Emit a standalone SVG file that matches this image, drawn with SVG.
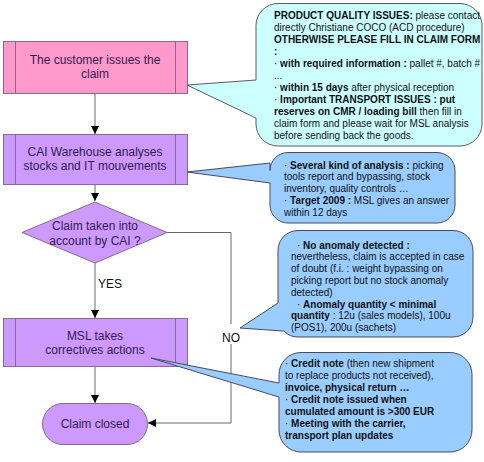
<svg xmlns="http://www.w3.org/2000/svg" width="484" height="462" viewBox="0 0 484 462">
<defs>
<marker id="ah" viewBox="0 0 10 10" refX="10" refY="5" markerWidth="8" markerHeight="10" markerUnits="userSpaceOnUse" orient="auto"><path d="M0,0 L10,5 L0,10 Z" fill="#000"/></marker>
<style>
.nt{font-family:"Liberation Sans",Arial,sans-serif;font-size:12px;fill:#33194c;text-anchor:middle}
.ct{font-family:"Liberation Sans",Arial,sans-serif;font-size:10px;fill:#111}
.b{font-weight:bold}
.pink{fill:#ff99cc;stroke:#8a6a8a;stroke-width:1}
.purp{fill:#cc99ff;stroke:#8a6a8a;stroke-width:1}
.inner{stroke:#8a6a8a;stroke-width:1;fill:none}
.c1{fill:#ccffff;stroke:#5a5a5a;stroke-width:1}
.c2{fill:#99ccff;stroke:#4a4a5a;stroke-width:1}
.main{stroke:#9a9a9a;stroke-width:1.5;fill:none;marker-end:url(#ah)}
.no{stroke:#666;stroke-width:1;fill:none;marker-end:url(#ah)}
.lbl{font-family:"Liberation Sans",Arial,sans-serif;font-size:12px;fill:#111}
</style>
</defs>
<rect width="484" height="462" fill="#fff"/>
<g id="connectors">
<line class="main" x1="95" y1="93" x2="95" y2="134"/>
<line class="main" x1="95" y1="184" x2="95" y2="201"/>
<line class="main" x1="95" y1="263" x2="95" y2="318"/>
<line class="main" x1="95" y1="366" x2="95" y2="403"/>
<path class="no" d="M167,232.5 H231 V423 H148"/>
<rect x="220" y="324" width="22" height="20" fill="#fff"/>
<text class="lbl" x="98" y="287.5">YES</text>
<text class="lbl" x="222" y="341.5">NO</text>
</g>
<g id="n1">
<rect class="pink" x="3.5" y="41.5" width="184" height="52"/>
<path class="inner" d="M15.5,41.5 V93.5 M175.5,41.5 V93.5"/>
<text class="nt" x="95" y="64">The customer issues the</text>
<text class="nt" x="95" y="78">claim</text>
</g>
<g id="n2">
<rect class="purp" x="3.5" y="134.5" width="184" height="50"/>
<path class="inner" d="M15.5,134.5 V184.5 M175.5,134.5 V184.5"/>
<text class="nt" x="95" y="156">CAI Warehouse analyses</text>
<text class="nt" x="95" y="170">stocks and IT mouvements</text>
</g>
<g id="n3">
<path class="purp" d="M95,202 L167,232.5 L95,263 L22,232.5 Z"/>
<text class="nt" x="95" y="229.5">Claim taken into</text>
<text class="nt" x="95" y="244.5">account by CAI ?</text>
</g>
<g id="n4">
<rect class="purp" x="3.5" y="318.5" width="184" height="48"/>
<path class="inner" d="M15.5,318.5 V366.5 M175.5,318.5 V366.5"/>
<text class="nt" x="95" y="339.5">MSL takes</text>
<text class="nt" x="95" y="353.5">correctives actions</text>
</g>
<g id="n5">
<rect class="purp" x="42.5" y="403.5" width="105" height="41" rx="20.5" ry="20.5"/>
<text class="nt" x="95" y="428">Claim closed</text>
</g>
<g id="callout1">
<path class="c1" d="M278,3.5 H460 A22,22 0 0 1 482,25.5 V124 A22,22 0 0 1 460,146 H278 A22,22 0 0 1 256,124 V118 L187,85 L256,80 V25.5 A22,22 0 0 1 278,3.5 Z"/>
<text class="ct" x="274" y="18.5"><tspan class="b">PRODUCT QUALITY ISSUES:</tspan> please contact</text>
<text class="ct" x="274" y="30.5">directly Christiane COCO (ACD procedure)</text>
<text class="ct b" x="274" y="42.5">OTHERWISE PLEASE FILL IN CLAIM FORM</text>
<text class="ct b" x="274" y="54.5">:</text>
<text class="ct" x="274" y="66.5">· <tspan class="b">with required information :</tspan> pallet #, batch #</text>
<text class="ct" x="274" y="78.5">...</text>
<text class="ct" x="274" y="90.5">· <tspan class="b">within 15 days</tspan> after physical reception</text>
<text class="ct" x="274" y="102.5">· <tspan class="b">Important TRANSPORT ISSUES : put</tspan></text>
<text class="ct" x="274" y="114.5"><tspan class="b">reserves on CMR / loading bill</tspan> then fill in</text>
<text class="ct" x="274" y="126.5">claim form and please wait for MSL analysis</text>
<text class="ct" x="274" y="138.5">before sending back the goods.</text>
</g>
<g id="callout2">
<path class="c2" d="M288,152.5 H437 A18,18 0 0 1 455,170.5 V205 A18,18 0 0 1 437,223 H288 A18,18 0 0 1 270,205 V183 L187,172 L270,163 V170.5 A18,18 0 0 1 288,152.5 Z"/>
<text class="ct" x="284" y="168.5">· <tspan class="b">Several kind of analysis :</tspan> picking</text>
<text class="ct" x="284" y="180.3">tools report and bypassing, stock</text>
<text class="ct" x="284" y="192.1">inventory, quality controls …</text>
<text class="ct" x="284" y="203.9">· <tspan class="b">Target 2009 :</tspan> MSL gives an answer</text>
<text class="ct" x="284" y="215.7">within 12 days</text>
</g>
<g id="callout3">
<path class="c2" d="M298,230.5 H453 A20,20 0 0 1 473,250.5 V317 A20,20 0 0 1 453,337 H298 A20,20 0 0 1 283.9,331.1 L240,328 L278,303 V250.5 A20,20 0 0 1 298,230.5 Z"/>
<text class="ct" x="297" y="248.5">· <tspan class="b">No anomaly detected :</tspan></text>
<text class="ct" x="291" y="260.3">nevertheless, claim is accepted in case</text>
<text class="ct" x="291" y="272.1">of doubt (f.i. : weight bypassing on</text>
<text class="ct" x="291" y="283.9">picking report but no stock anomaly</text>
<text class="ct" x="291" y="295.7">detected)</text>
<text class="ct" x="297" y="307.5">· <tspan class="b">Anomaly quantity &lt; minimal</tspan></text>
<text class="ct" x="291" y="319.3"><tspan class="b">quantity</tspan> : 12u (sales models), 100u</text>
<text class="ct" x="291" y="331.1">(POS1), 200u (sachets)</text>
</g>
<g id="callout4">
<path class="c2" d="M301,352.5 H450 A22,22 0 0 1 472,374.5 V430 A22,22 0 0 1 450,452 H301 A22,22 0 0 1 279,430 V397 L151,358 L279,383 V374.5 A22,22 0 0 1 301,352.5 Z"/>
<text class="ct" x="285" y="366.5">· <tspan class="b">Credit note</tspan> (then new shipment</text>
<text class="ct" x="285" y="378.5">to replace products not received),</text>
<text class="ct b" x="285" y="390.5">invoice, physical return …</text>
<text class="ct" x="285" y="402.5">· <tspan class="b">Credit note issued when</tspan></text>
<text class="ct b" x="285" y="414.5">cumulated amount is &gt;300 EUR</text>
<text class="ct" x="285" y="426.5">· <tspan class="b">Meeting with the carrier,</tspan></text>
<text class="ct b" x="285" y="438.5">transport plan updates</text>
</g>
</svg>
